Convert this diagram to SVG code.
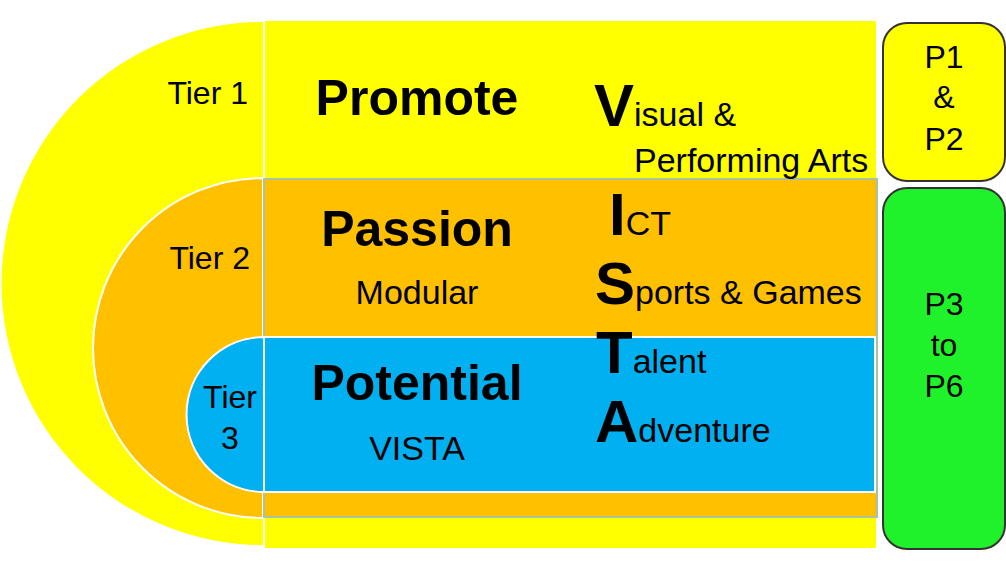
<svg xmlns="http://www.w3.org/2000/svg" width="1006" height="567" viewBox="0 0 1006 567">
<style>
text{font-family:"Liberation Sans",Arial,sans-serif;fill:#000}
.t{font-size:32px}
.s{font-size:34px}
.h{font-size:50px;font-weight:bold}
.b{font-size:60px;font-weight:bold}
.c{text-anchor:middle}
.r{text-anchor:end}
.y{fill:#FFFF00}
.o{fill:#FFC000}
.bl{fill:#00B0F0}
.box{stroke:#333;stroke-width:2}
</style>
<rect width="1006" height="567" fill="#fff"/>
<g id="tier1">
<path class="y" d="M263,22 A261.5,261.5 0 0 0 263,545 Z"/>
<rect class="y" x="265" y="21" width="611" height="527"/>
<line x1="264" y1="21" x2="264" y2="548" stroke="#fff" stroke-width="2"/>
<text class="t r" x="248" y="104">Tier 1</text>
<text class="h c" x="417" y="115">Promote</text>
</g>
<g id="tier2">
<path class="o" d="M263,178 A170,170 0 0 0 263,518 Z" stroke="#fff" stroke-width="2"/>
<rect class="o" x="264" y="179" width="613" height="338" stroke="#A9C2A2" stroke-width="2"/>
<text class="t r" x="250" y="269">Tier 2</text>
<text class="h c" x="417" y="246">Passion</text>
<text class="s c" x="417" y="304">Modular</text>
</g>
<g id="tier3">
<path class="bl" d="M264,337 A77.5,77.5 0 0 0 264,492 Z" stroke="#fff" stroke-width="2"/>
<rect class="bl" x="264" y="337" width="611" height="155" stroke="#fff" stroke-width="2"/>
<text class="t c" x="230" y="408">Tier</text>
<text class="t c" x="230" y="449">3</text>
<text class="h c" x="417" y="400">Potential</text>
<text class="s c" x="417" y="460">VISTA</text>
</g>
<g id="vista">
<text x="594" y="126"><tspan class="b">V</tspan><tspan class="s">isual &amp;</tspan></text>
<text class="s" x="634" y="172">Performing Arts</text>
<text x="609" y="235"><tspan class="b">I</tspan><tspan class="s">CT</tspan></text>
<text x="595" y="304"><tspan class="b">S</tspan><tspan class="s">ports &amp; Games</tspan></text>
<text x="596" y="373"><tspan class="b">T</tspan><tspan class="s">alent</tspan></text>
<text x="595" y="442"><tspan class="b">A</tspan><tspan class="s">dventure</tspan></text>
</g>
<g id="p1p2">
<rect class="box y" x="883" y="23" width="122" height="158" rx="24"/>
<text class="t c" x="944" y="68">P1</text>
<text class="t c" x="944" y="108">&amp;</text>
<text class="t c" x="944" y="150">P2</text>
</g>
<g id="p3p6">
<rect class="box" fill="#1FF22A" x="883" y="188" width="122" height="361" rx="24"/>
<text class="t c" x="944" y="315">P3</text>
<text class="t c" x="944" y="356">to</text>
<text class="t c" x="944" y="397">P6</text>
</g>
</svg>
